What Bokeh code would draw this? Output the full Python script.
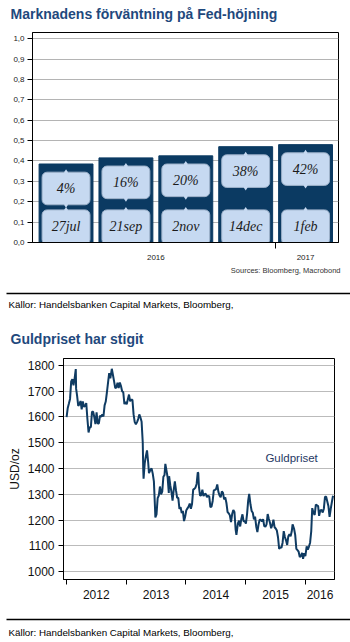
import pandas as pd
from bokeh.plotting import figure
from bokeh.layouts import column
from bokeh.models import Range1d, FixedTicker, CustomJSTickFormatter, Label
from bokeh.embed import file_html
from bokeh.resources import INLINE
from bokeh.core.properties import value

# ---------------- data: chart 1 ----------------
meetings = ["27jul", "21sep", "2nov", "14dec", "1feb"]
fed_values = [0.385, 0.415, 0.425, 0.47, 0.48]
hike_prob = ["4%", "16%", "20%", "38%", "42%"]
meeting_years = ["2016", "2016", "2016", "2016", "2017"]
y_ticks1 = [0.0, 0.1, 0.2, 0.3, 0.4, 0.5, 0.6, 0.7, 0.8, 0.9, 1.0]

# ---------------- data: gold ----------------
gold_dates = [
    "2012-01-03", "2012-01-10", "2012-01-17", "2012-01-24", "2012-01-31", "2012-02-07", "2012-02-14", "2012-02-21",
    "2012-02-28", "2012-03-01", "2012-03-07", "2012-03-14", "2012-03-21", "2012-03-28", "2012-04-04", "2012-04-11",
    "2012-04-18", "2012-04-25", "2012-05-02", "2012-05-09", "2012-05-16", "2012-05-23", "2012-05-30", "2012-06-06",
    "2012-06-13", "2012-06-20", "2012-06-27", "2012-07-04", "2012-07-11", "2012-07-18", "2012-07-25", "2012-08-01",
    "2012-08-08", "2012-08-15", "2012-08-22", "2012-08-29", "2012-09-05", "2012-09-12", "2012-09-19", "2012-09-26",
    "2012-10-03", "2012-10-05", "2012-10-12", "2012-10-19", "2012-10-26", "2012-11-02", "2012-11-09", "2012-11-16",
    "2012-11-23", "2012-11-30", "2012-12-07", "2012-12-14", "2012-12-21", "2012-12-28",
    "2013-01-04", "2013-01-11", "2013-01-18", "2013-01-25", "2013-02-01", "2013-02-08", "2013-02-15", "2013-02-22",
    "2013-03-01", "2013-03-08", "2013-03-15", "2013-03-22", "2013-03-29", "2013-04-05", "2013-04-12", "2013-04-15",
    "2013-04-17", "2013-04-24", "2013-05-01", "2013-05-08", "2013-05-15", "2013-05-20", "2013-05-29", "2013-06-05",
    "2013-06-12", "2013-06-19", "2013-06-26", "2013-06-28", "2013-07-05", "2013-07-12", "2013-07-19", "2013-07-26",
    "2013-08-02", "2013-08-09", "2013-08-16", "2013-08-23", "2013-08-28", "2013-09-04", "2013-09-11", "2013-09-18",
    "2013-09-20", "2013-09-27", "2013-10-04", "2013-10-11", "2013-10-18", "2013-10-25", "2013-11-01", "2013-11-08",
    "2013-11-15", "2013-11-22", "2013-11-29", "2013-12-06", "2013-12-13", "2013-12-20", "2013-12-27",
    "2014-01-03", "2014-01-10", "2014-01-17", "2014-01-24", "2014-01-31", "2014-02-07", "2014-02-14", "2014-02-21",
    "2014-02-28", "2014-03-07", "2014-03-14", "2014-03-17", "2014-03-21", "2014-03-28", "2014-04-04", "2014-04-11",
    "2014-04-18", "2014-04-25", "2014-05-02", "2014-05-09", "2014-05-16", "2014-05-23", "2014-05-30", "2014-06-06",
    "2014-06-13", "2014-06-20", "2014-06-27", "2014-07-04", "2014-07-11", "2014-07-18", "2014-07-25", "2014-08-01",
    "2014-08-08", "2014-08-15", "2014-08-22", "2014-08-29", "2014-09-05", "2014-09-12", "2014-09-19", "2014-09-26",
    "2014-10-03", "2014-10-10", "2014-10-17", "2014-10-24", "2014-10-31", "2014-11-05", "2014-11-14", "2014-11-21",
    "2014-11-28", "2014-12-05", "2014-12-12", "2014-12-19", "2014-12-26",
    "2015-01-02", "2015-01-09", "2015-01-16", "2015-01-22", "2015-01-30", "2015-02-06", "2015-02-13", "2015-02-20",
    "2015-02-27", "2015-03-06", "2015-03-13", "2015-03-20", "2015-03-27", "2015-04-03", "2015-04-10", "2015-04-17",
    "2015-04-24", "2015-05-01", "2015-05-08", "2015-05-15", "2015-05-22", "2015-05-29", "2015-06-05", "2015-06-12",
    "2015-06-19", "2015-06-26", "2015-07-03", "2015-07-10", "2015-07-17", "2015-07-24", "2015-07-31", "2015-08-07",
    "2015-08-14", "2015-08-21", "2015-08-28", "2015-09-04", "2015-09-11", "2015-09-18", "2015-09-25", "2015-10-02",
    "2015-10-09", "2015-10-14", "2015-10-23", "2015-10-30", "2015-11-06", "2015-11-13", "2015-11-20", "2015-11-27",
    "2015-12-04", "2015-12-11", "2015-12-17", "2015-12-24", "2015-12-31",
    "2016-01-08", "2016-01-15", "2016-01-22", "2016-01-29", "2016-02-05", "2016-02-11", "2016-02-19", "2016-02-26",
    "2016-03-04", "2016-03-11", "2016-03-18", "2016-03-24", "2016-03-31", "2016-04-08", "2016-04-15", "2016-04-22",
    "2016-04-29", "2016-05-06", "2016-05-13", "2016-05-20", "2016-05-27", "2016-06-03", "2016-06-10", "2016-06-17",
]
gold_prices = [
    1599, 1635, 1652, 1670, 1738, 1747, 1723, 1750,
    1786, 1710, 1683, 1643, 1650, 1662, 1630, 1660,
    1640, 1642, 1654, 1592, 1540, 1560, 1560, 1620,
    1620, 1600, 1572, 1618, 1575, 1575, 1605, 1601,
    1610, 1602, 1645, 1660, 1695, 1733, 1770, 1750,
    1778, 1787, 1763, 1738, 1712, 1715, 1733, 1712,
    1734, 1720, 1700, 1696, 1650, 1658,
    1649, 1669, 1687, 1661, 1667, 1667, 1610, 1580,
    1572, 1580, 1592, 1610, 1598, 1581, 1501, 1395,
    1360, 1420, 1448, 1470, 1425, 1382, 1395, 1400,
    1380, 1350, 1245, 1210, 1222, 1285, 1295, 1330,
    1300, 1310, 1368, 1375, 1418, 1392, 1365, 1305,
    1370, 1335, 1310, 1275, 1316, 1350, 1315, 1286,
    1286, 1243, 1250, 1227, 1235, 1196, 1213,
    1238, 1245, 1252, 1264, 1244, 1262, 1318, 1321,
    1326, 1340, 1385, 1382, 1330, 1295, 1296, 1318,
    1293, 1300, 1302, 1289, 1294, 1292, 1250, 1252,
    1274, 1315, 1317, 1320, 1338, 1309, 1295, 1288,
    1311, 1305, 1280, 1288, 1266, 1231, 1226, 1218,
    1192, 1223, 1239, 1231, 1164, 1142, 1187, 1197,
    1175, 1204, 1222, 1195, 1195,
    1186, 1223, 1276, 1301, 1260, 1235, 1228, 1203,
    1213, 1175, 1153, 1182, 1201, 1201, 1195, 1203,
    1176, 1174, 1183, 1223, 1204, 1189, 1168, 1180,
    1201, 1172, 1167, 1159, 1133, 1088, 1095, 1092,
    1112, 1157, 1134, 1121, 1103, 1137, 1145, 1137,
    1156, 1183, 1166, 1142, 1088, 1083, 1077, 1056,
    1061, 1072, 1049, 1071, 1060,
    1098, 1085, 1097, 1112, 1157, 1246, 1227, 1220,
    1260, 1257, 1254, 1216, 1237, 1239, 1229, 1244,
    1290, 1290, 1272, 1253, 1212, 1243, 1270, 1294,
]
gold_years = ["2012", "2013", "2014", "2015", "2016"]
gold_y_ticks = [1000, 1100, 1200, 1300, 1400, 1500, 1600, 1700, 1800]
gold_series_name = "Guldpriset"

TITLE_COLOR = "#1f497d"
NAVY = "#0b3a62"
LIGHT = "#c6d9f1"
SANS = "Liberation Sans"


def text_panel(height):
    p = figure(width=350, height=height, x_range=Range1d(0, 350), y_range=Range1d(height, 0),
               x_axis_type=None, y_axis_type=None, toolbar_location=None, output_backend="svg",
               min_border=0, outline_line_color=None)
    p.grid.visible = False
    p.frame_align = False
    return p


def ptext(p, x, y, s, size, color="#000000", style="normal", align="left"):
    p.text(x=[x], y=[y], text=[s], text_font=value(SANS), text_font_size=size,
           text_font_style=style, text_color=color, text_baseline="middle", text_align=align)


# ---------------- header 1 ----------------
head1 = text_panel(28)
ptext(head1, 10, 13, "Marknadens förväntning på Fed-höjning", "14px", TITLE_COLOR, "bold")

# ---------------- chart 1 ----------------
n = len(meetings)
idx = list(range(n))
p1 = figure(width=350, height=234, x_range=Range1d(-0.56, n - 1 + 0.55), y_range=Range1d(0, 1.03),
            toolbar_location=None, output_backend="svg",
            min_border_left=32, min_border_right=12, min_border_top=4, min_border_bottom=20)
p1.frame_align = False
p1.outline_line_color = "black"
p1.outline_line_width = 1
p1.xgrid.visible = False
p1.ygrid.grid_line_color = "#b4b4b4"
p1.ygrid.ticker = FixedTicker(ticks=y_ticks1)

p1.vbar(x=idx, top=fed_values, width=0.9, fill_color=NAVY, line_color=NAVY)

# callout boxes
pct_top = [v - 0.04 for v in fed_values]
pct_bot = [v - 0.20 for v in fed_values]
pct_mid = [v - 0.12 for v in fed_values]
left = [i - 0.4 for i in idx]
right = [i + 0.4 for i in idx]
p1.quad(left=left, right=right, top=pct_top, bottom=pct_bot, fill_color=LIGHT,
        line_color="#9db1c9", line_width=1, border_radius=5)
p1.quad(left=left, right=right, top=[0.16] * n, bottom=[-0.01] * n, fill_color=LIGHT,
        line_color="#9db1c9", line_width=1, border_radius=5)
p1.scatter(x=idx + idx + idx, y=pct_top + pct_bot + [0.16] * n, marker="diamond", size=6,
           fill_color=LIGHT, line_color=None)
p1.text(x=idx, y=pct_mid, text=hike_prob, text_font=value("Liberation Serif"), text_font_size="14px",
        text_font_style="italic", text_color="#1b1b1b", text_align="center", text_baseline="middle")
p1.text(x=idx, y=[0.08] * n, text=meetings, text_font=value("Liberation Serif"), text_font_size="14px",
        text_font_style="italic", text_color="#1b1b1b", text_align="center", text_baseline="middle")

# axes
p1.yaxis.ticker = FixedTicker(ticks=y_ticks1)
p1.yaxis.formatter = CustomJSTickFormatter(code="return tick.toFixed(1).replace('.', ',');")
p1.yaxis.major_tick_out = 5
p1.yaxis.major_tick_in = 0
p1.yaxis.minor_tick_out = 0
p1.yaxis.minor_tick_in = 0
p1.yaxis.major_label_standoff = 3
p1.yaxis.axis_line_color = "black"
p1.yaxis.major_tick_line_color = "black"

# year groups on x axis
uniq_years = []
for y in meeting_years:
    if y not in uniq_years:
        uniq_years.append(y)
centers, bounds = [], []
for y in uniq_years:
    members = [i for i, yy in enumerate(meeting_years) if yy == y]
    centers.append((members[0] + members[-1]) / 2)
    if members[0] > 0:
        bounds.append(members[0] - 0.5)
p1.xaxis.ticker = FixedTicker(ticks=centers, minor_ticks=bounds)
p1.xaxis.major_label_overrides = {c: y for c, y in zip(centers, uniq_years)}
p1.xaxis.major_tick_out = 0
p1.xaxis.major_tick_in = 0
p1.xaxis.minor_tick_out = 6
p1.xaxis.minor_tick_in = 0
p1.xaxis.minor_tick_line_color = "black"
p1.xaxis.major_label_standoff = 6
for ax in (p1.xaxis[0], p1.yaxis[0]):
    ax.major_label_text_font = SANS
    ax.major_label_text_font_size = "8px"
    ax.major_label_text_color = "#222222"

# ---------------- separator + header 2 ----------------
mid = text_panel(88)
ptext(mid, 340, 8, "Sources: Bloomberg, Macrobond", "7.5px", "#333333", align="right")
mid.segment(x0=[6], y0=[31], x1=[350], y1=[31], line_color="black", line_width=1.5)
ptext(mid, 8, 42, "Källor: Handelsbanken Capital Markets, Bloomberg,", "9.8px")
ptext(mid, 10, 76, "Guldpriset har stigit", "14px", TITLE_COLOR, "bold")

# ---------------- gold chart ----------------
gd = pd.to_datetime(pd.Series(gold_dates))
xmin = pd.Timestamp("2011-12-15")
xmax = pd.Timestamp("2016-06-26")
p2 = figure(width=350, height=254, x_axis_type="datetime", x_range=Range1d(xmin, xmax),
            y_range=Range1d(969, 1827), toolbar_location=None, output_backend="svg",
            min_border_left=63, min_border_right=16, min_border_top=8, min_border_bottom=25)
p2.frame_align = False
p2.outline_line_color = "black"
p2.xgrid.visible = False
p2.ygrid.grid_line_color = "#bbbbbb"
p2.ygrid.ticker = FixedTicker(ticks=gold_y_ticks)
p2.line(x=gd, y=gold_prices, line_color="#0f3b62", line_width=2)
p2.add_layout(Label(x=pd.Timestamp("2015-05-01"), y=1440, text=gold_series_name, text_font=SANS,
                    text_font_size="11.5px", text_color="#1f3864", text_baseline="middle"))

ms = lambda t: t.value / 1e6
year_starts, year_mids = [], []
for y in gold_years:
    s = pd.Timestamp(f"{y}-01-01")
    e = pd.Timestamp(f"{int(y) + 1}-01-01")
    year_starts.append(ms(s))
    year_mids.append((ms(max(s, xmin)) + ms(min(e, xmax))) / 2)
p2.xaxis.ticker = FixedTicker(ticks=year_mids, minor_ticks=year_starts)
p2.xaxis.formatter = CustomJSTickFormatter(code="return String(new Date(tick).getUTCFullYear());")
p2.xaxis.major_tick_out = 0
p2.xaxis.major_tick_in = 0
p2.xaxis.minor_tick_out = 5
p2.xaxis.minor_tick_in = 0
p2.xaxis.minor_tick_line_color = "black"
p2.xaxis.major_label_standoff = 5
p2.yaxis.ticker = FixedTicker(ticks=gold_y_ticks)
p2.yaxis.major_tick_out = 5
p2.yaxis.major_tick_in = 0
p2.yaxis.minor_tick_out = 0
p2.yaxis.major_label_standoff = 4
p2.yaxis.axis_label = "USD/oz"
p2.yaxis.axis_label_text_font = SANS
p2.yaxis.axis_label_text_font_size = "12px"
p2.yaxis.axis_label_text_font_style = "normal"
p2.yaxis.axis_label_text_color = "#111111"
p2.yaxis.axis_label_standoff = 3
for ax in (p2.xaxis[0], p2.yaxis[0]):
    ax.major_label_text_font = SANS
    ax.major_label_text_font_size = "12px"
    ax.major_label_text_color = "#111111"
    ax.axis_line_color = "black"

# ---------------- footer ----------------
foot = text_panel(38)
foot.segment(x0=[6], y0=[15], x1=[350], y1=[15], line_color="black", line_width=1.5)
ptext(foot, 8, 28, "Källor: Handelsbanken Capital Markets, Bloomberg,", "9.8px")

layout = column(head1, p1, mid, p2, foot, spacing=0)
open("out.html", "w").write(file_html(layout, INLINE))
